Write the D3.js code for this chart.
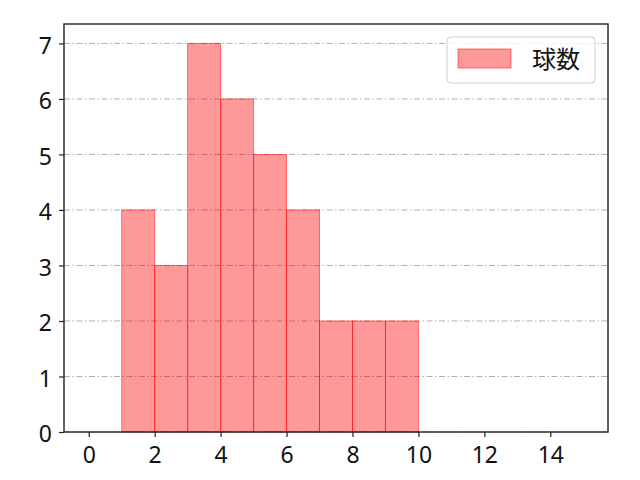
<!DOCTYPE html>
<html>
<head>
<meta charset="utf-8">
<script src="https://cdn.jsdelivr.net/npm/d3@7"></script>
<style>
  body { margin: 0; background: #fff; }
  text { font-family: "Noto Sans CJK JP", "DejaVu Sans", sans-serif; }
</style>
</head>
<body>
<svg width="640" height="480"></svg>
<script>
// histogram bins (left edge, right edge) and counts
const bin_starts = [1, 2, 3, 4, 5, 6, 7, 8, 9];
const bin_ends = [2, 3, 4, 5, 6, 7, 8, 9, 10];
const counts = [4, 3, 7, 6, 5, 4, 2, 2, 2];
const x_ticks = [0, 2, 4, 6, 8, 10, 12, 14];
const y_ticks = [0, 1, 2, 3, 4, 5, 6, 7];
const series_name = "球数";

const margin = { left: 64, right: 32, top: 24, bottom: 48 },
  width = 640,
  height = 480;

const svg = d3.select("svg");

const x_scale = d3.scaleLinear()
  .domain([-0.75, 15.75])
  .range([margin.left, width - margin.right]);
const y_scale = d3.scaleLinear()
  .domain([0, 7.35])
  .range([height - margin.bottom, margin.top]);

const bins = bin_starts.map((s, i) => ({ x0: s, x1: bin_ends[i], n: counts[i] }));

// grid lines (horizontal only, dash-dot)
svg.append("g")
  .selectAll("line")
  .data(y_ticks)
  .join("line")
  .attr("x1", margin.left)
  .attr("x2", width - margin.right)
  .attr("y1", (d) => y_scale(d))
  .attr("y2", (d) => y_scale(d))
  .attr("stroke", "#b0b0b0")
  .attr("stroke-width", 1)
  .attr("stroke-dasharray", "6,2.5,1.5,2.5");

// bars
svg.append("g")
  .selectAll("rect")
  .data(bins)
  .join("rect")
  .attr("x", (d) => x_scale(d.x0))
  .attr("y", (d) => y_scale(d.n))
  .attr("width", (d) => x_scale(d.x1) - x_scale(d.x0))
  .attr("height", (d) => y_scale(0) - y_scale(d.n))
  .attr("fill", "rgba(255,0,0,0.4)")
  .attr("stroke", "rgba(255,0,0,0.5)")
  .attr("stroke-width", 1);

// axes
const x_axis = d3.axisBottom(x_scale)
  .tickValues(x_ticks)
  .tickSize(5)
  .tickPadding(10)
  .tickFormat(d3.format("d"));
const y_axis = d3.axisLeft(y_scale)
  .tickValues(y_ticks)
  .tickSize(5)
  .tickPadding(7)
  .tickFormat(d3.format("d"));

const gx = svg.append("g")
  .attr("transform", `translate(0,${height - margin.bottom})`)
  .call(x_axis);
const gy = svg.append("g")
  .attr("transform", `translate(${margin.left},0)`)
  .call(y_axis);

[gx, gy].forEach((g) => {
  g.select(".domain").remove();
  g.selectAll(".tick line").attr("stroke", "#222").attr("stroke-width", 1.2);
  g.selectAll(".tick text")
    .attr("fill", "#111")
    .style("font-size", "23px")
    .style("font-family", "\"Noto Sans\", sans-serif");
});
gy.selectAll(".tick text").attr("dy", "0.42em");

// frame
svg.append("rect")
  .attr("x", margin.left)
  .attr("y", margin.top)
  .attr("width", width - margin.left - margin.right)
  .attr("height", height - margin.top - margin.bottom)
  .attr("fill", "none")
  .attr("stroke", "#222")
  .attr("stroke-width", 1.4);

// legend
const legend = svg.append("g").attr("transform", "translate(447,37)");
legend.append("rect")
  .attr("width", 148)
  .attr("height", 46)
  .attr("rx", 4)
  .attr("fill", "rgba(255,255,255,0.8)")
  .attr("stroke", "#d0d0d0");
legend.append("rect")
  .attr("x", 11)
  .attr("y", 12)
  .attr("width", 53)
  .attr("height", 19)
  .attr("fill", "rgba(255,0,0,0.4)")
  .attr("stroke", "rgba(255,0,0,0.5)");
legend.append("text")
  .attr("x", 85)
  .attr("y", 22)
  .attr("dy", "0.38em")
  .style("font-size", "24px")
  .attr("fill", "#111")
  .text(series_name);
</script>
</body>
</html>
